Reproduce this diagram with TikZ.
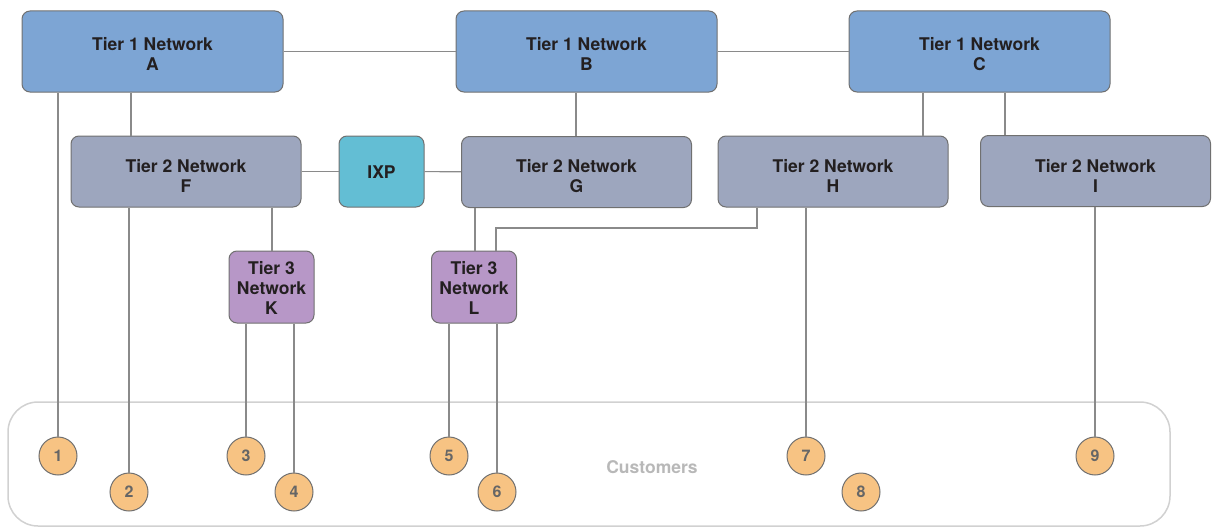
\documentclass[tikz,border=0pt]{standalone}
\usepackage{fontspec}
\setmainfont{TeX Gyre Heros}
\definecolor{tierone}{RGB}{125,165,212}
\definecolor{tiertwo}{RGB}{157,166,190}
\definecolor{tierthree}{RGB}{183,151,199}
\definecolor{ixpblue}{RGB}{99,190,212}
\definecolor{custfill}{RGB}{247,195,131}
\definecolor{edgegrey}{RGB}{112,112,112}
\definecolor{linkgrey}{RGB}{138,138,138}
\definecolor{inkdark}{RGB}{35,31,32}

\tikzset{every picture/.style={line width=1pt}}
\tikzset{
  nettext/.style={align=center, inner sep=0pt, text=inkdark,
                  font=\fontsize{17.5}{20}\selectfont\bfseries},
  netbox/.style={draw=edgegrey, rounded corners=8pt, inner sep=0pt},
  tieronebox/.style={netbox, fill=tierone, minimum width=261pt, minimum height=81pt,
                     label={[nettext, yshift=-2.5pt]center:#1}},
  tiertwobox/.style={netbox, fill=tiertwo, minimum width=230pt, minimum height=71pt,
                     label={[nettext, yshift=-4.5pt]center:#1}},
  ixpbox/.style={netbox, fill=ixpblue, minimum width=85pt, minimum height=71pt,
                 label={[nettext, yshift=-0.5pt]center:#1}},
  tierthreebox/.style={netbox, fill=tierthree, minimum width=85pt, minimum height=72pt,
                       label={[nettext, yshift=-1pt]center:#1}},
  cust/.style={draw=edgegrey, fill=custfill, circle, minimum size=38pt, inner sep=0pt,
               text=black!60, font=\fontsize{16}{16}\selectfont\bfseries},
  link/.style={draw=linkgrey, line width=1.2pt}
}

\begin{document}
\begin{tikzpicture}[x=1pt, y=1pt, yscale=-1, xscale=1]

    \useasboundingbox (0,0) rectangle (1213,527);

    % customers area
    \draw [draw=black!18, line width=1.5pt, rounded corners=30pt]
          (8,402) rectangle (1170,526);
    \node [text=black!28, font=\fontsize{17.5}{17.5}\selectfont\bfseries] (custlabel) at (652,467) {Customers};

    \node [tieronebox={Tier 1 Network\\A}] (A) at (152.5, 51.5) {};
    \node [tieronebox={Tier 1 Network\\B}] (B) at (586.5, 51.5) {};
    \node [tieronebox={Tier 1 Network\\C}] (C) at (979.5, 51.5) {};

    \node [tiertwobox={Tier 2 Network\\F}] (F) at ( 186.0, 171.5) {};
    \node [ixpbox={IXP}]                   (X) at ( 381.5, 171.5) {};
    \node [tiertwobox={Tier 2 Network\\G}] (G) at ( 576.5, 172.0) {};
    \node [tiertwobox={Tier 2 Network\\H}] (H) at ( 833.0, 171.5) {};
    \node [tiertwobox={Tier 2 Network\\I}] (I) at (1095.5, 171.0) {};

    \node [tierthreebox={Tier 3\\Network\\K}] (K) at (271.5, 287) {};
    \node [tierthreebox={Tier 3\\Network\\L}] (L) at (474.0, 287) {};

    \node [cust] (c1) at (  58, 456) {1};
    \node [cust] (c2) at ( 129, 492) {2};
    \node [cust] (c3) at ( 246, 456) {3};
    \node [cust] (c4) at ( 294, 492) {4};
    \node [cust] (c5) at ( 449, 456) {5};
    \node [cust] (c6) at ( 497, 492) {6};
    \node [cust] (c7) at ( 806, 456) {7};
    \node [cust] (c8) at ( 861, 492) {8};
    \node [cust] (c9) at (1095, 456) {9};

    % peering between tier 1
    \draw [link] (A) -- (B);
    \draw [link] (B) -- (C);

    % tier 1 to tier 2
    \draw [link] (A.south -| 131,0) -- (F.north -| 131,0);
    \draw [link] (B.south -| 576,0) -- (G.north -| 576,0);
    \draw [link] (C.south -| 923,0) -- (H.north -| 923,0);
    \draw [link] (C.south -| 1005,0) -- (I.north -| 1005,0);

    % exchange point
    \draw [link] (F) -- (X);
    \draw [link] (X) -- (G);

    % tier 2 to tier 3
    \draw [link] (F.south -| 272,0) -- (K.north -| 272,0);
    \draw [link] (G.south -| 475,0) -- (L.north -| 475,0);
    \draw [link] (H.south -| 757,0) -- (757,228) -| (L.north -| 496,0);

    % customers
    \draw [link] (c1.north) -- (c1 |- A.south);
    \draw [link] (c2.north) -- (c2 |- F.south);
    \draw [link] (c3.north) -- (c3 |- K.south);
    \draw [link] (c4.north) -- (c4 |- K.south);
    \draw [link] (c5.north) -- (c5 |- L.south);
    \draw [link] (c6.north) -- (c6 |- L.south);
    \draw [link] (c7.north) -- (c7 |- H.south);
    \draw [link] (c9.north) -- (c9 |- I.south);

\end{tikzpicture}
\end{document}
